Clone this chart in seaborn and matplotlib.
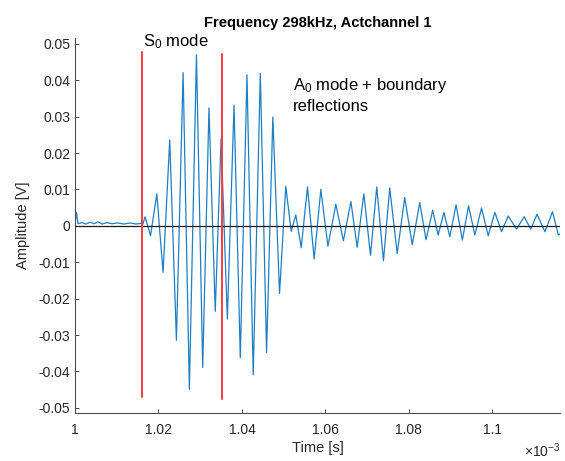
import matplotlib
matplotlib.use("Agg")
import matplotlib.pyplot as plt
import seaborn as sns
import pandas as pd
from matplotlib.ticker import FuncFormatter

# Time in units of 1e-3 s, amplitude in V (extrema)
time_ms = [1.0000, 1.00036, 1.0007, 1.0017, 1.0026, 1.0036, 1.0046, 1.0055, 1.0065,
           1.0077, 1.0089, 1.0103, 1.0117, 1.0132, 1.0146, 1.0158, 1.0162,
           1.0168, 1.0181, 1.0196, 1.0211, 1.0227, 1.0243, 1.0259, 1.0274,
           1.0291, 1.0306, 1.0321, 1.0336, 1.0350, 1.0365, 1.0381, 1.0396,
           1.0412, 1.0427, 1.0444, 1.0459, 1.0474, 1.0490, 1.0505, 1.0518,
           1.0529, 1.0542, 1.0557, 1.0573, 1.0589, 1.0606, 1.0625, 1.0643,
           1.0661, 1.0676, 1.0692, 1.0708, 1.0723, 1.0739, 1.0754, 1.0772,
           1.0790, 1.0808, 1.0826, 1.0841, 1.0857, 1.0870, 1.0884, 1.0898,
           1.0913, 1.0928, 1.0943, 1.0958, 1.0974, 1.0990, 1.1006, 1.1022,
           1.1038, 1.1058, 1.1076, 1.1092, 1.1107, 1.1126, 1.1144, 1.1158, 1.1162]
amplitude = [0.0008, 0.0037, 0.0006, 0.0009, 0.0005, 0.0010, 0.0006, 0.0011, 0.0005,
             0.0009, 0.0006, 0.0008, 0.0005, 0.0008, 0.0005, 0.0007, 0.0003,
             0.0025, -0.0027, 0.0088, -0.0128, 0.0236, -0.0314, 0.0421, -0.0449,
             0.0470, -0.0389, 0.0324, -0.0235, 0.0239, -0.0256, 0.0332, -0.0362,
             0.0415, -0.0409, 0.0419, -0.0348, 0.0299, -0.0186, 0.0109, -0.0015,
             0.0030, -0.0060, 0.0107, -0.0091, 0.0100, -0.0056, 0.0059, -0.0041,
             0.0067, -0.0059, 0.0088, -0.0081, 0.0107, -0.0096, 0.0104, -0.0076,
             0.0078, -0.0052, 0.0064, -0.0038, 0.0043, -0.0025, 0.0037, -0.0030,
             0.0058, -0.0039, 0.0055, -0.0025, 0.0049, -0.0027, 0.0037, -0.0016,
             0.0027, -0.0009, 0.0025, -0.0009, 0.0032, -0.0016, 0.0039, -0.0025, -0.0022]

marker_times = [1.01612, 1.03514]
marker_top = [0.0478, 0.0473]
marker_bottom = [-0.0470, -0.0475]

x_ticks = [1.0, 1.02, 1.04, 1.06, 1.08, 1.1]
y_ticks = [-0.05, -0.04, -0.03, -0.02, -0.01, 0, 0.01, 0.02, 0.03, 0.04, 0.05]

sns.set_theme(style="ticks")
plt.rcParams['font.family'] = ['Liberation Sans', 'DejaVu Sans']
plt.rcParams['mathtext.fontset'] = 'custom'
plt.rcParams['mathtext.rm'] = 'Liberation Sans'
plt.rcParams['mathtext.it'] = 'Liberation Sans:italic'

fig = plt.figure(figsize=(5.65, 4.61), dpi=100)
ax = fig.add_axes([75/565, 1-413/461, (560-75)/565, (413-38)/461])

df = pd.DataFrame({"t": time_ms, "a": amplitude})
sns.lineplot(data=df, x="t", y="a", sort=False, estimator=None, ax=ax,
             color="#1f7fc4", linewidth=0.9)

ax.axhline(0, color="#1a1a1a", linewidth=0.9, zorder=3)
for xt, yt, yb in zip(marker_times, marker_top, marker_bottom):
    ax.plot([xt, xt], [yb, yt], color="#FF3B3B", linewidth=1.4, zorder=4)

ax.set_xlim(1.0, 1.1162)
ax.set_ylim(-0.0514, 0.0516)
ax.set_xticks(x_ticks)
ax.set_yticks(y_ticks)
ax.xaxis.set_major_formatter(FuncFormatter(lambda v, p: "%g" % round(v, 4)))
ax.yaxis.set_major_formatter(FuncFormatter(lambda v, p: "%g" % round(v, 4)))

axcol = "#262626"
for s in ["top", "right"]:
    ax.spines[s].set_visible(False)
for s in ["left", "bottom"]:
    ax.spines[s].set_color("#4d4d4d")
    ax.spines[s].set_linewidth(0.8)
ax.tick_params(direction="in", length=3, width=0.7, colors="#4d4d4d",
               labelcolor=axcol, labelsize=10)
ax.tick_params(axis="x", pad=7)

ax.set_xlabel("Time [s]", fontsize=10.5, color=axcol, labelpad=3)
ax.set_ylabel("Amplitude [V]", fontsize=10.5, color=axcol, labelpad=6)
ax.set_title("Frequency 298kHz, Actchannel 1", fontsize=10.5, fontweight="bold",
             color="black", pad=8)

ax.text(1.0162, 0.0492, r"S$_0$ mode", fontsize=12, color="black",
        ha="left", va="baseline")
ax.text(1.0522, 0.0374, r"A$_0$ mode + boundary", fontsize=12, color="black",
        ha="left", va="baseline")
ax.text(1.0522, 0.0316, "reflections", fontsize=12, color="black",
        ha="left", va="baseline")

fig.text(560/565, 1-457/461, r"$\times$10$^{-3}$", fontsize=10, color=axcol,
         ha="right", va="baseline")

fig.savefig("out.png", dpi=100, facecolor="white")
